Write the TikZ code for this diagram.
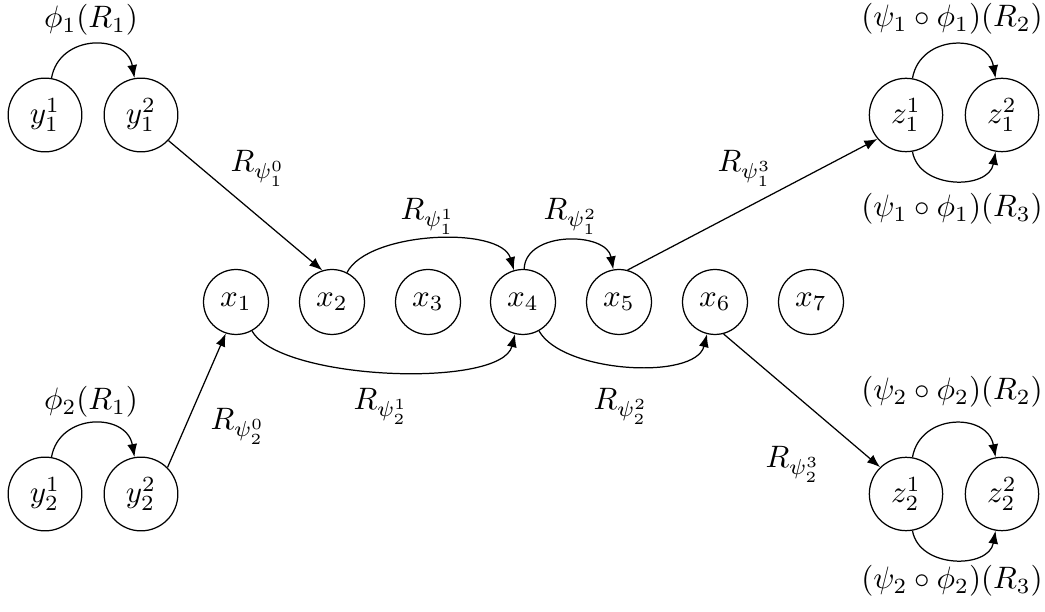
\documentclass[tikz,border=0pt]{standalone}
\usetikzlibrary{arrows.meta}
\tikzset{
  st/.style={circle, draw, line width=0.4pt, inner sep=3.33pt},
  lbl/.style={inner sep=0pt},
  arr/.style={-{Latex[length=4.2pt,width=3.2pt]}, line width=0.4pt},
}
\begin{document}
\begin{tikzpicture}[x=0.3226pt,y=-0.3226pt]
\useasboundingbox (0,0) rectangle (1045,612);
% states
\node[st] (y11) at (45,115) {$y_1^1$};
\node[st] (y12) at (141,115) {$y_1^2$};
\node[st] (y21) at (45,494) {$y_2^1$};
\node[st] (y22) at (141,494) {$y_2^2$};
\node[st] (x1) at (236,302) {$x_1$};
\node[st] (x2) at (332,302) {$x_2$};
\node[st] (x3) at (428,302) {$x_3$};
\node[st] (x4) at (523,302) {$x_4$};
\node[st] (x5) at (619,302) {$x_5$};
\node[st] (x6) at (715,302) {$x_6$};
\node[st] (x7) at (811,302) {$x_7$};
\node[st] (z11) at (906,115) {$z_1^1$};
\node[st] (z12) at (1002,115) {$z_1^2$};
\node[st] (z21) at (906,494) {$z_2^1$};
\node[st] (z22) at (1002,494) {$z_2^2$};
% connectors
\draw[arr] (y11) to[out=80,in=100,looseness=1.4] (y12);
\draw[arr] (y21) to[out=80,in=100,looseness=1.4] (y22);
\draw[arr] (z11) to[out=80,in=100,looseness=1.4] (z12);
\draw[arr] (z11) to[out=-80,in=-100,looseness=1.2] (z12);
\draw[arr] (z21) to[out=80,in=100,looseness=1.4] (z22);
\draw[arr] (z21) to[out=-80,in=-100,looseness=1.2] (z22);
\draw[arr] (y12.-43) -- (x2.107);
\draw[arr] (y22.45) -- (x1.-108);
\draw[arr] (x2) to[out=63,in=106,looseness=0.71] (x4);
\draw[arr] (x4) to[out=88,in=100,looseness=1.1] (x5);
\draw[arr] (x1) to[out=-61,in=-104,looseness=0.55] (x4);
\draw[arr] (x4) to[out=-61,in=-104,looseness=0.73] (x6);
\draw[arr] (x5.75) -- (z11.220);
\draw[arr] (x6.-75) -- (z21.134);
% labels
\node[lbl] (la) at (91,20) {$\phi_1(R_1)$};
\node[lbl] (lb) at (91,402) {$\phi_2(R_1)$};
\node[lbl] (lc) at (952,19) {$(\psi_1\circ\phi_1)(R_2)$};
\node[lbl] (ld) at (952,209) {$(\psi_1\circ\phi_1)(R_3)$};
\node[lbl] (le) at (952,392) {$(\psi_2\circ\phi_2)(R_2)$};
\node[lbl] (lf) at (952,581) {$(\psi_2\circ\phi_2)(R_3)$};
\node[lbl, anchor=base west] (r10) at (230,172) {$R_{\psi_1^0}$};
\node[lbl, anchor=base west] (r20) at (210,430) {$R_{\psi_2^0}$};
\node[lbl, anchor=base west] (r11) at (400,220) {$R_{\psi_1^1}$};
\node[lbl, anchor=base west] (r12) at (543,220) {$R_{\psi_1^2}$};
\node[lbl, anchor=base west] (r21) at (353,410) {$R_{\psi_2^1}$};
\node[lbl, anchor=base west] (r22) at (593,410) {$R_{\psi_2^2}$};
\node[lbl, anchor=base west] (r13) at (717,172) {$R_{\psi_1^3}$};
\node[lbl, anchor=base west] (r23) at (765,468) {$R_{\psi_2^3}$};
\end{tikzpicture}
\end{document}
